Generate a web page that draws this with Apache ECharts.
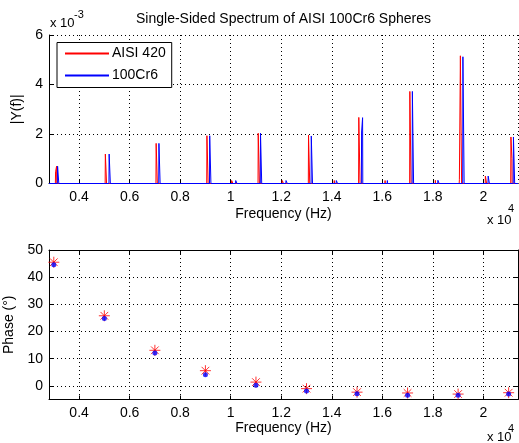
<!DOCTYPE html>
<html><head><meta charset="utf-8">
<script src="https://cdn.jsdelivr.net/npm/echarts@6/dist/echarts.min.js"></script>
<style>html,body{margin:0;padding:0;background:#fff}#c{width:519px;height:443px}</style>
</head><body><div id="c"></div>
<script>
// ---- Data ----
// Frequency axis range (Hz)
const freqMin = 2810;
const freqMax = 21370;
// Non-zero spectrum bins: frequency (Hz) and |Y(f)| in units of 1e-3
const redBinFreq = [3070,3110, 5040,5080, 7050,7090, 9060,9100, 10040,10080, 11090,11130, 12040,12080, 13080,13120, 14100, 15070,15110, 16110, 17090,17130, 18100, 19050,19090,19130, 20080,20120, 21090,21130];
const redBinAmp  = [0.47,0.70, 1.19,1.19, 1.62,1.62, 1.93,1.93, 0.12,0.12, 2.03,2.03, 0.12,0.12, 1.96,1.96, 0.12, 2.67,2.67, 0.12, 3.72,3.72, 0.13, 0.15,5.16,5.16, 0.30,0.30, 1.88,1.01];
const blueBinFreq = [3150,3190, 5190,5230, 7160,7200, 9170,9210, 10200,10240, 11180,11220, 12190,12230, 13190,13230, 14180,14220, 15180,15220, 16200, 17190,17230, 18200,18240, 19190,19230, 20190,20230, 21190,21230];
const blueBinAmp  = [0.70,0.70, 1.19,1.19, 1.62,1.62, 1.93,1.93, 0.12,0.12, 2.03,2.03, 0.12,0.12, 1.92,1.92, 0.12,0.12, 2.08,2.66, 0.12, 3.72,3.72, 0.13,0.13, 5.12,5.12, 0.30,0.30, 1.88,1.88];
// Phase (degrees)
const phaseFreq = [3000, 5000, 7000, 9000, 11000, 13000, 15000, 17000, 19000, 21000];
const redPhase  = [45.5, 25.8, 13.1, 5.6, 1.4, -1.0, -2.3, -2.6, -3.0, -2.5];
const bluePhase = [44.6, 24.8, 12.1, 4.1, 0.2, -1.9, -2.9, -3.4, -3.4, -3.0];
// Tick values
const freqTickStep = 2000;
const magTicks = [0, 2, 4, 6];
const phaseTicks = [0, 10, 20, 30, 40, 50];
const seriesNames = ['AISI 420', '100Cr6'];
const seriesColors = ['#ff0000', '#0000ff'];

// ---- Build spectrum line data (bins joined by zero baseline) ----
function spectrum(freqs, amps) {
  const edge = 8, step = 40;
  const out = [[freqMin, 0]];
  for (let i = 0; i < freqs.length; i++) {
    const prevAdj = i > 0 && freqs[i] - freqs[i-1] <= step + 5;
    const nextAdj = i < freqs.length - 1 && freqs[i+1] - freqs[i] <= step + 5;
    if (!prevAdj) out.push([freqs[i] - edge, 0]);
    out.push([freqs[i], amps[i]]);
    if (!nextAdj) out.push([freqs[i] + edge, 0]);
  }
  out.push([freqMax, 0]);
  return out;
}

const FONT = "'Liberation Sans', Arial, sans-serif";
const dotted = { color: '#000', type: [1, 3], width: 1 };
const fmtFreq = v => (v % freqTickStep === 0) ? String(+(v / 10000).toFixed(1)) : '';
const axisBase = {
  axisLine: { show: true, onZero: false, lineStyle: { color: '#000', width: 1 } },
  axisTick: { show: true, inside: true, length: 4, lineStyle: { color: '#000' } }
};

const chart = echarts.init(document.getElementById('c'), null, { renderer: 'canvas' });
chart.setOption({
  animation: false,
  backgroundColor: '#fff',
  textStyle: { fontFamily: FONT, color: '#000' },
  grid: [
    { left: 49, top: 35, width: 469, height: 148.5, outerBoundsMode: 'none' },
    { left: 49, top: 250, width: 469, height: 149.5, outerBoundsMode: 'none' }
  ],
  legend: {
    show: true,
    data: seriesNames.map((n, i) => ({ name: n, icon: 'rect',
      itemStyle: { color: seriesColors[i], borderWidth: 0 },
      lineStyle: { color: seriesColors[i], width: 1, opacity: 1 } })),
    left: 57, top: 42.5, orient: 'vertical',
    itemWidth: 44, itemHeight: 2, itemGap: 6,
    padding: [3, 6, 4, 8],
    borderColor: '#000', borderWidth: 1, backgroundColor: '#fff',
    textStyle: { fontFamily: FONT, fontSize: 14, color: '#000', lineHeight: 16, padding: [0, 0, 0, -2] }
  },
  xAxis: [
    Object.assign({ gridIndex: 0, type: 'value', min: freqMin, max: freqMax, minInterval: freqTickStep, maxInterval: freqTickStep,
      name: 'Frequency (Hz)', nameLocation: 'middle', nameGap: 24,
      nameTextStyle: { fontFamily: FONT, fontSize: 14, color: '#000' },
      axisLabel: { formatter: fmtFreq, margin: 7, fontFamily: FONT, fontSize: 14, color: '#000', showMinLabel: false, showMaxLabel: false },
      splitLine: { show: true, lineStyle: dotted } }, axisBase),
    Object.assign({ gridIndex: 1, type: 'value', min: freqMin, max: freqMax, minInterval: freqTickStep, maxInterval: freqTickStep,
      name: 'Frequency (Hz)', nameLocation: 'middle', nameGap: 22,
      nameTextStyle: { fontFamily: FONT, fontSize: 14, color: '#000' },
      axisLabel: { formatter: fmtFreq, margin: 7, fontFamily: FONT, fontSize: 14, color: '#000', showMinLabel: false, showMaxLabel: false },
      splitLine: { show: true, lineStyle: dotted } }, axisBase),
    Object.assign({ gridIndex: 1, type: 'value', position: 'top', min: freqMin, max: freqMax, minInterval: freqTickStep, maxInterval: freqTickStep,
      axisLabel: { show: false }, splitLine: { show: false } }, axisBase)
  ],
  yAxis: [
    Object.assign({ gridIndex: 0, type: 'value', min: magTicks[0], max: magTicks[magTicks.length-1], interval: magTicks[1] - magTicks[0],
      name: '|Y(f)|', nameLocation: 'middle', nameGap: 25, nameRotate: 90,
      nameTextStyle: { fontFamily: FONT, fontSize: 14, color: '#000' },
      axisLabel: { margin: 6, fontFamily: FONT, fontSize: 14, color: '#000' },
      splitLine: { show: true, lineStyle: dotted } }, axisBase),
    Object.assign({ gridIndex: 1, type: 'value', min: -5, max: phaseTicks[phaseTicks.length-1],
      minInterval: phaseTicks[1] - phaseTicks[0], maxInterval: phaseTicks[1] - phaseTicks[0],
      name: 'Phase (°)', nameLocation: 'middle', nameGap: 28, nameRotate: 90,
      nameTextStyle: { fontFamily: FONT, fontSize: 14, color: '#000' },
      axisLabel: { margin: 6, fontFamily: FONT, fontSize: 14, color: '#000',
        formatter: v => phaseTicks.indexOf(v) >= 0 ? String(v) : '' },
      splitLine: { show: true, lineStyle: dotted } }, axisBase),
    Object.assign({ gridIndex: 1, type: 'value', position: 'right', min: -5, max: phaseTicks[phaseTicks.length-1],
      minInterval: phaseTicks[1] - phaseTicks[0], maxInterval: phaseTicks[1] - phaseTicks[0],
      axisLabel: { show: false }, splitLine: { show: false } }, axisBase)
  ],
  series: [
    { name: seriesNames[0], type: 'line', xAxisIndex: 0, yAxisIndex: 0, showSymbol: false, symbol: 'none',
      data: spectrum(redBinFreq, redBinAmp), lineStyle: { color: seriesColors[0], width: 1 }, itemStyle: { color: seriesColors[0] } },
    { name: seriesNames[1], type: 'line', xAxisIndex: 0, yAxisIndex: 0, showSymbol: false, symbol: 'none',
      data: spectrum(blueBinFreq, blueBinAmp), lineStyle: { color: seriesColors[1], width: 1 }, itemStyle: { color: seriesColors[1] } },
    { name: seriesNames[0] + ' phase', type: 'scatter', xAxisIndex: 1, yAxisIndex: 1,
      data: phaseFreq.map((f, i) => [f, redPhase[i]]),
      symbol: 'path://M5,0 L5,10 M0,5 L10,5 M1.5,1.5 L8.5,8.5 M1.5,8.5 L8.5,1.5', symbolSize: 11,
      itemStyle: { color: 'rgba(0,0,0,0)', borderColor: seriesColors[0], borderWidth: 1 } },
    { name: seriesNames[1] + ' phase', type: 'scatter', xAxisIndex: 1, yAxisIndex: 1,
      data: phaseFreq.map((f, i) => [f, bluePhase[i]]),
      symbol: 'circle', symbolSize: 5, itemStyle: { color: seriesColors[1] } }
  ],
  graphic: [
    { type: 'text', x: 283.5, y: 19, style: { text: 'Single-Sided Spectrum of AISI 100Cr6 Spheres', fontFamily: FONT, fontSize: 14, fill: '#000', align: 'center', verticalAlign: 'middle' } },
    { type: 'text', x: 50, y: 23, style: { text: 'x 10', fontFamily: FONT, fontSize: 13, fill: '#000', align: 'left', verticalAlign: 'middle' } },
    { type: 'text', x: 74, y: 15, style: { text: '-3', fontFamily: FONT, fontSize: 11, fill: '#000', align: 'left', verticalAlign: 'middle' } },
    { type: 'text', x: 487, y: 220, style: { text: 'x 10', fontFamily: FONT, fontSize: 13, fill: '#000', align: 'left', verticalAlign: 'middle' } },
    { type: 'text', x: 508, y: 209, style: { text: '4', fontFamily: FONT, fontSize: 11, fill: '#000', align: 'left', verticalAlign: 'middle' } },
    { type: 'text', x: 487, y: 437, style: { text: 'x 10', fontFamily: FONT, fontSize: 13, fill: '#000', align: 'left', verticalAlign: 'middle' } },
    { type: 'text', x: 508, y: 429, style: { text: '4', fontFamily: FONT, fontSize: 11, fill: '#000', align: 'left', verticalAlign: 'middle' } }
  ]
});
</script>
</body></html>
